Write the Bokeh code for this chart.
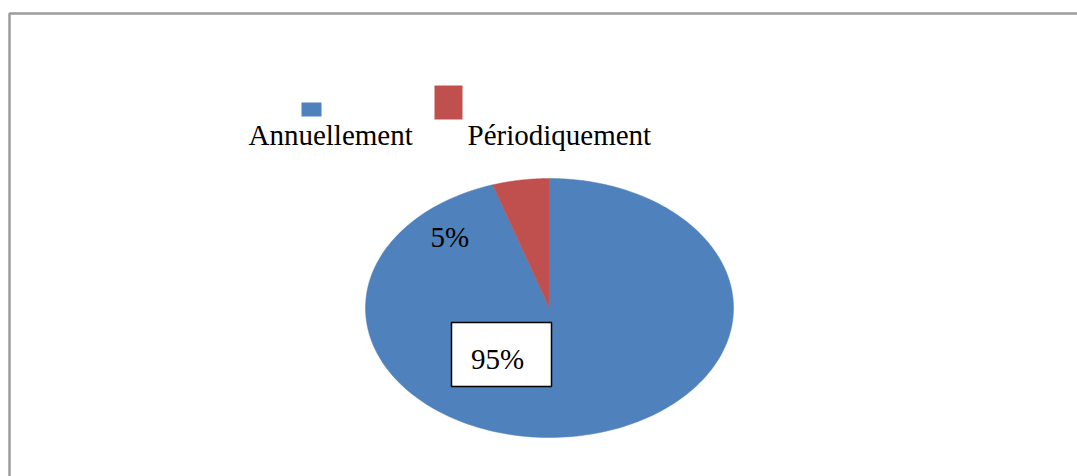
import numpy as np
from bokeh.plotting import figure
from bokeh.models import Range1d
from bokeh.core.properties import value
from bokeh.embed import file_html
from bokeh.resources import INLINE

# ---- data ----
categories = ["Annuellement", "Périodiquement"]
values = [95, 5]
colors = ["#4F81BD", "#C0504D"]
pct_labels = ["95%", "5%"]

W, H = 1077, 476
p = figure(width=W, height=H, output_backend="svg", toolbar_location=None,
           x_range=Range1d(0, W), y_range=Range1d(H, 0),
           min_border=0, background_fill_color="white", border_fill_color="white")
p.axis.visible = False
p.grid.visible = False
p.outline_line_color = None

# frame (top and left edges of the chart area)
p.line(x=[9, 9, W], y=[H, 13, 13], line_color="#9c9c9c", line_width=2.5)

# pie as ellipse slices (start at 12 o'clock, clockwise)
cx, cy, rx, ry = 549, 307.5, 184, 129.5
total = float(sum(values))
start = np.pi / 2
xs, ys = [], []
for v in values:
    sweep = 2 * np.pi * v / total
    t = np.linspace(start, start - sweep, 200)
    xs.append(list(np.concatenate([[cx], cx + rx * np.cos(t)])))
    ys.append(list(np.concatenate([[cy], cy - ry * np.sin(t)])))
    start -= sweep
p.patches(xs=xs, ys=ys, fill_color=colors, line_color=colors, line_width=0.5)

font = value("Liberation Serif")
dy = -11  # baseline correction for the svg text renderer

# data labels
# 95% label in a white box
p.quad(left=[451], right=[551], top=[322], bottom=[386], fill_color="white",
       line_color="black", line_width=1.5)
p.text(x=[470.5], y=[369 + dy], text=[pct_labels[0]], text_font=font,
       text_font_size="29px", text_baseline="alphabetic", text_color="black")
p.text(x=[430], y=[247 + dy], text=[pct_labels[1]], text_font=font,
       text_font_size="29px", text_baseline="alphabetic", text_color="black")

# legend
p.quad(left=[301], right=[321], top=[102], bottom=[116], fill_color=colors[0], line_color=None)
p.quad(left=[434], right=[462], top=[85], bottom=[119], fill_color=colors[1], line_color=None)
p.text(x=[248, 467], y=[145 + dy, 145 + dy], text=categories, text_font=font,
       text_font_size="29px", text_baseline="alphabetic", text_color="black")

open("out.html", "w").write(file_html(p, INLINE))
